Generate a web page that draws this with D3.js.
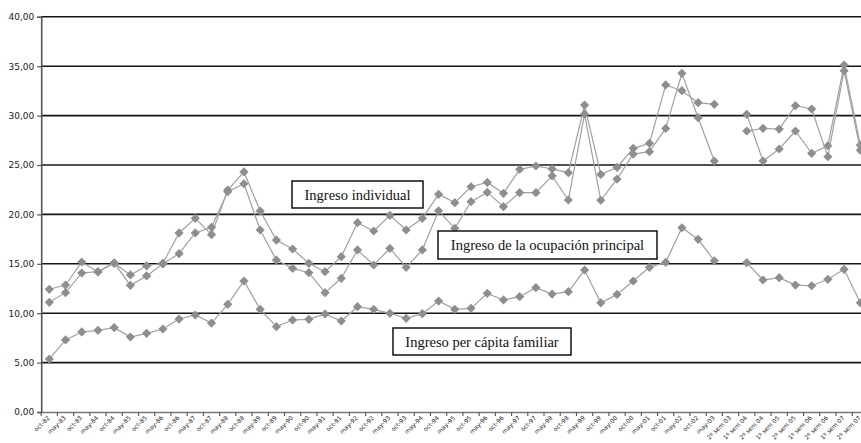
<!DOCTYPE html>
<html>
<head>
<meta charset="utf-8">
<script src="https://cdn.jsdelivr.net/npm/d3@7"></script>
<style>
  html, body { margin: 0; padding: 0; background: #fff; }
  svg { display: block; }
</style>
</head>
<body>
<svg id="chart" width="861" height="443"></svg>
<script>
// Period labels (EPH waves, then semesters of the continuous survey)
const periods = [
  "oct-82","may-83","oct-83","may-84","oct-84","may-85","oct-85","may-86","oct-86","may-87",
  "oct-87","may-88","oct-88","may-89","oct-89","may-90","oct-90","may-91","oct-91","may-92",
  "oct-92","may-93","oct-93","may-94","oct-94","may-95","oct-95","may-96","oct-96","may-97",
  "oct-97","may-98","oct-98","may-99","oct-99","may-00","oct-00","may-01","oct-01","may-02",
  "oct-02","may-03",
  "2º sem 03","1º sem 04","2º sem 04","1º sem 05","2º sem 05","1º sem 06","2º sem 06","1º sem 07","2º sem 07"
];

// Ingreso individual
const ingresoIndividual = [
  12.42, 12.85, 15.18, 14.17, 15.05, 13.87, 14.80, 15.05, 18.12, 19.60,
  17.95, 22.47, 24.30, 20.34, 17.40, 16.50, 15.05, 14.20, 15.72, 19.16,
  18.32, 19.90, 18.42, 19.60, 22.03, 21.19, 22.80, 23.24, 22.13, 24.56,
  24.90, 24.60, 24.22, 31.07, 24.05, 24.75, 26.69, 27.19, 33.10, 32.52,
  31.31, 31.14,
  null, 30.13, 25.40, 26.62, 28.44, 26.18, 26.95, 35.12, 27.02
];

// Ingreso de la ocupación principal
const ingresoOcupacion = [
  11.10, 12.08, 14.07, 14.20, 15.10, 12.82, 13.77, 15.00, 16.03, 18.12,
  18.70, 22.30, 23.10, 18.42, 15.38, 14.54, 14.10, 12.08, 13.53, 16.40,
  14.88, 16.56, 14.64, 16.40, 20.37, 18.59, 21.29, 22.23, 20.78, 22.20,
  22.20, 23.90, 21.46, 30.16, 21.43, 23.58, 26.11, 26.35, 28.70, 34.28,
  29.79, 25.40,
  null, 28.44, 28.71, 28.64, 31.00, 30.67, 25.84, 34.54, 26.50
];

// Ingreso per cápita familiar
const ingresoPerCapita = [
   5.36,  7.29,  8.10,  8.27,  8.54,  7.59,  7.96,  8.40,  9.41,  9.82,
   9.00, 10.90, 13.26, 10.39,  8.64,  9.31,  9.38,  9.92,  9.21, 10.66,
  10.39,  9.99,  9.48,  9.95, 11.23, 10.39, 10.49, 12.01, 11.34, 11.67,
  12.58, 11.94, 12.18, 14.37, 11.05, 11.90, 13.26, 14.64, 15.15, 18.65,
  17.48, 15.31,
  null, 15.11, 13.36, 13.60, 12.85, 12.78, 13.43, 14.44, 11.06
];

const yTicks = [0, 5, 10, 15, 20, 25, 30, 35, 40];

const seriesLabels = [
  "Ingreso individual",
  "Ingreso de la ocupación principal",
  "Ingreso per cápita familiar"
];

// ---- drawing ----
const svg = d3.select("#chart");
const plot = { left: 41.2, top: 16.8, bottom: 412, bandW: 16.22 };
plot.right = plot.left + plot.bandW * periods.length;

svg.append("rect").attr("width", 861).attr("height", 443).attr("fill", "#fff");

const x = d3.scaleBand()
  .domain(d3.range(periods.length))
  .range([plot.left, plot.right])
  .padding(0);

const y = d3.scaleLinear().domain([0, 40]).range([plot.bottom, plot.top]);

const fmt = v => d3.format(".2f")(v).replace(".", ",");

// horizontal gridlines
svg.append("g")
  .selectAll("line")
  .data(yTicks.filter(t => t > 0))
  .join("line")
  .attr("x1", plot.left).attr("x2", plot.right)
  .attr("y1", d => y(d)).attr("y2", d => y(d))
  .attr("stroke", "#161616")
  .attr("stroke-width", 1.6);

// y axis
const yAxis = svg.append("g")
  .attr("transform", `translate(${plot.left},0)`)
  .call(d3.axisLeft(y).tickValues(yTicks).tickFormat(fmt).tickSize(4).tickPadding(3));
yAxis.select(".domain").attr("stroke", "#555").attr("stroke-width", 1.6);
yAxis.selectAll(".tick line").attr("stroke", "#555").attr("stroke-width", 1.2);
yAxis.selectAll(".tick text")
  .attr("font-family", "DejaVu Sans, sans-serif")
  .attr("font-size", 9)
  .attr("fill", "#222");

// x axis
const xAxis = svg.append("g")
  .attr("transform", `translate(0,${plot.bottom})`)
  .call(d3.axisBottom(x).tickFormat(i => periods[i]).tickSize(0).tickPadding(0));
xAxis.select(".domain").attr("stroke", "#777").attr("stroke-width", 1.6);
xAxis.selectAll(".tick text")
  .attr("font-family", "DejaVu Sans, sans-serif")
  .attr("font-size", 6)
  .attr("fill", "#222")
  .attr("text-anchor", "end")
  .attr("transform", "translate(-0.5,5) rotate(-45)")
  .attr("dy", "0.3em");

// tick marks between categories
svg.append("g")
  .selectAll("line")
  .data(d3.range(periods.length + 1))
  .join("line")
  .attr("x1", i => plot.left + i * x.bandwidth())
  .attr("x2", i => plot.left + i * x.bandwidth())
  .attr("y1", plot.bottom).attr("y2", plot.bottom + 4)
  .attr("stroke", "#555").attr("stroke-width", 1.1);

// series
const cx = i => x(i) + x.bandwidth() / 2;
const line = d3.line()
  .defined(d => d != null)
  .x((d, i) => cx(i))
  .y(d => y(d));

const diamond = "M0,-4.6L4.6,0L0,4.6L-4.6,0Z";

[ingresoIndividual, ingresoOcupacion, ingresoPerCapita].forEach(values => {
  const g = svg.append("g");
  g.append("path")
    .attr("d", line(values))
    .attr("fill", "none")
    .attr("stroke", "#a0a0a0")
    .attr("stroke-width", 1.2);
  g.selectAll("path.mk")
    .data(values.map((v, i) => ({ v, i })).filter(d => d.v != null))
    .join("path")
    .attr("class", "mk")
    .attr("d", diamond)
    .attr("transform", d => `translate(${cx(d.i)},${y(d.v)})`)
    .attr("fill", "#8e8e8e");
});

// series labels in boxes
const boxes = [
  { text: seriesLabels[0], x0: 292, x1: 423, y0: 181, y1: 208 },
  { text: seriesLabels[1], x0: 438, x1: 657, y0: 231, y1: 259 },
  { text: seriesLabels[2], x0: 393, x1: 571, y0: 328, y1: 355 }
];
const lg = svg.append("g");
boxes.forEach(b => {
  lg.append("rect")
    .attr("x", b.x0).attr("y", b.y0)
    .attr("width", b.x1 - b.x0).attr("height", b.y1 - b.y0)
    .attr("fill", "#fff").attr("stroke", "#111").attr("stroke-width", 1.5);
  lg.append("text")
    .attr("x", (b.x0 + b.x1) / 2)
    .attr("y", (b.y0 + b.y1) / 2 + 5)
    .attr("text-anchor", "middle")
    .attr("font-family", "Liberation Serif, Times New Roman, serif")
    .attr("font-size", 14.5)
    .attr("fill", "#111")
    .text(b.text);
});
</script>
</body>
</html>
